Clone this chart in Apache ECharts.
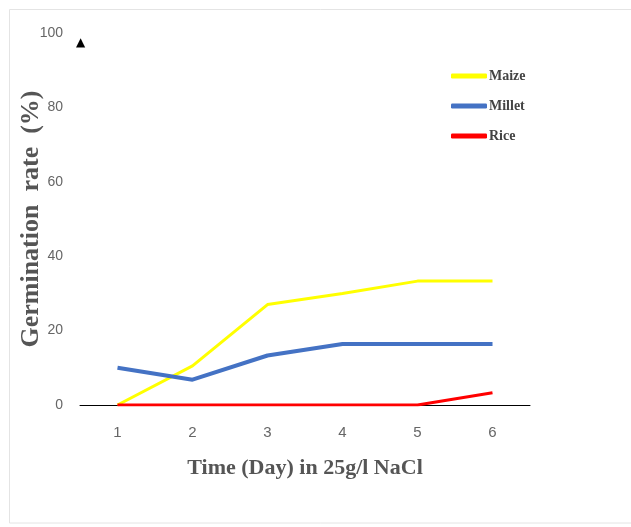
<!DOCTYPE html>
<html><head><meta charset="utf-8">
<script src="https://cdn.jsdelivr.net/npm/echarts@6/dist/echarts.min.js"></script>
<style>html,body{margin:0;padding:0;background:#fff}#c{width:631px;height:527px}</style>
</head><body><div id="c"></div>
<script>
var days = ['1','2','3','4','5','6'];
var maize = [0, 10.5, 27, 30, 33.3, 33.3];
var millet = [10, 6.8, 13.3, 16.4, 16.4, 16.4];
var rice = [0, 0, 0, 0, 0, 3.3];
var seriesNames = ['Maize','Millet','Rice'];
var chart = echarts.init(document.getElementById('c'));
var serif = '"Liberation Serif","Times New Roman",serif';
function mk(name, data, color, w) {
  return {name: name, type: 'line', data: data, symbol: 'none', smooth: false,
    lineStyle: {color: color, width: w}, itemStyle: {color: color}};
}
chart.setOption({
  animation: false,
  backgroundColor: '#fff',
  graphic: [
    {type: 'rect', shape: {x: 9.5, y: 9.5, width: 640, height: 513.5}, style: {fill: 'none', stroke: '#e4e4e4', lineWidth: 1}, silent: true},
    {type: 'text', left: 76, top: 37, style: {text: '▲', font: '12px "DejaVu Sans"', fill: '#000'}}
  ],
  legend: {
    orient: 'vertical', left: 446, top: 64, itemGap: 16, itemWidth: 36, itemHeight: 5,
    icon: 'roundRect',
    data: seriesNames,
    textStyle: {fontFamily: serif, fontWeight: 'bold', fontSize: 14, color: '#444', padding: [0,0,0,-3]}
  },
  grid: {left: 80, right: 101, top: 33, bottom: 122, containLabel: false, outerBoundsMode: 'none'},
  xAxis: {
    type: 'category', data: days, boundaryGap: true,
    name: 'Time (Day) in 25g/l NaCl', nameLocation: 'middle', nameGap: 52, nameMoveOverlap: false,
    nameTextStyle: {fontFamily: serif, fontWeight: 'bold', fontSize: 22, color: '#555'},
    axisLine: {lineStyle: {color: '#000', width: 1}},
    axisTick: {show: false},
    axisLabel: {fontFamily: '"Liberation Sans",sans-serif', fontSize: 15, color: '#666', margin: 20}
  },
  yAxis: {
    type: 'value', min: 0, max: 100, interval: 20,
    name: 'Germination  rate  (%)', nameLocation: 'middle', nameGap: 36, nameMoveOverlap: false,
    nameTextStyle: {fontFamily: serif, fontWeight: 'bold', fontSize: 26, color: '#555'},
    axisLine: {show: false}, axisTick: {show: false}, splitLine: {show: false},
    axisLabel: {fontFamily: '"Liberation Sans",sans-serif', fontSize: 14, color: '#666', margin: 17}
  },
  series: [
    mk('Maize', maize, '#ffff00', 3),
    mk('Millet', millet, '#4472c4', 4),
    mk('Rice', rice, '#ff0000', 3)
  ]
});
</script></body></html>
